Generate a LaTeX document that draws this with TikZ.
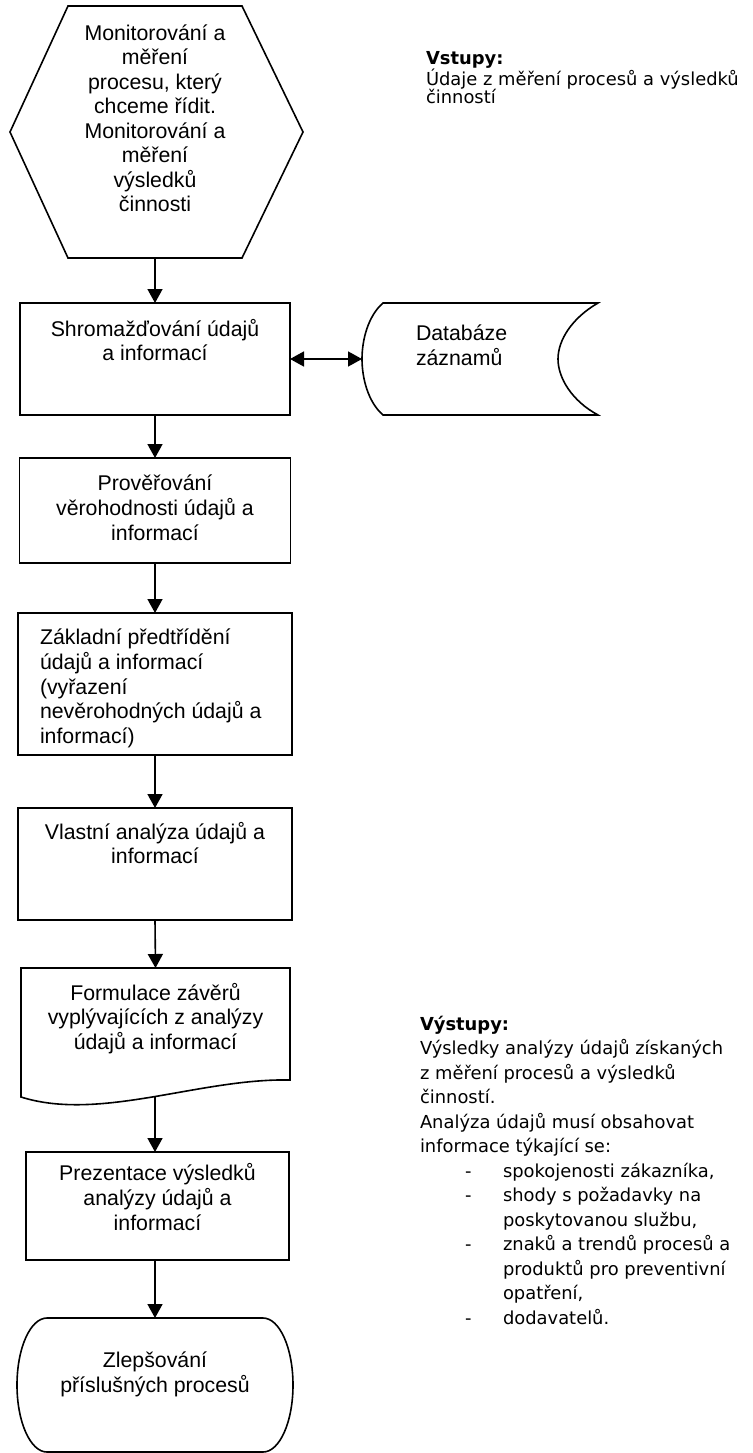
\documentclass[tikz,border=0pt]{standalone}
\usepackage{fontspec}
\setmainfont{Liberation Sans}
\newfontfamily\verd{DejaVu Sans}
\usetikzlibrary{arrows.meta}
\newcommand\blk[5]{\begin{minipage}[c][#2pt][t]{#1pt}\vspace*{#3pt}#4\strut #5\end{minipage}}
\begin{document}
\begin{tikzpicture}[x=1pt,y=-1pt,
  line width=1.6pt,
  arr/.style={-{Triangle[length=14pt,width=15pt]}},
  darr/.style={{Triangle[length=14pt,width=15pt]}-{Triangle[length=14pt,width=15pt]}},
  flow/.style={inner sep=0pt, outer sep=0pt, font=\fontsize{21.3}{24.5}\selectfont},
  boxed/.style={flow, draw},
  side/.style={inner sep=0pt, outer sep=0pt, anchor=north west, font=\verd\fontsize{17.9}{#1}\selectfont}
]
\useasboundingbox (0,0) rectangle (752,1453);
\coordinate (colx) at (155,0);

% hexagon
\draw (68,6) -- (242,6) -- (303,132) -- (242,258) -- (68,258) -- (10,132) -- cycle;
\node[flow] (hex) at (155,132) {\blk{220}{252}{17}{\centering}{Monitorování a\\měření\\procesu, který\\chceme řídit.\\Monitorování a\\měření\\výsledků\\činnosti}};

% boxes
\node[boxed] (b1) at (155,359) {\blk{270}{112}{16}{\centering}{Shromažďování údajů\\a informací}};
\node[boxed] (b2) at (155,510.5) {\blk{271}{105}{15}{\centering}{Prověřování\\věrohodnosti údajů a\\informací}};
\node[boxed] (b3) at (155,684) {\blk{274}{142}{14}{\raggedright\leftskip=22pt}{Základní předtřídění\\údajů a informací\\(vyřazení\\nevěrohodných údajů a\\informací)}};
\node[boxed] (b4) at (155,864) {\blk{274}{112}{14}{\centering}{Vlastní analýza údajů a\\informací}};

% document shape
\draw (21,968) -- (290,968) -- (290,1080) .. controls (200,1078) and (100,1122) .. (21,1097) -- cycle;
\node[flow] (doc) at (155.5,1032.5) {\blk{269}{129}{15}{\centering}{Formulace závěrů\\vyplývajících z analýzy\\údajů a informací}};
\coordinate (docb) at (155,1097);

\node[boxed] (b6) at (157.5,1206) {\blk{263}{108}{11}{\centering}{Prezentace výsledků\\analýzy údajů a\\informací}};

% terminal
\draw (47,1318) -- (263,1318) .. controls (279.6,1318) and (293,1348) .. (293,1385)
  .. controls (293,1422) and (279.6,1452) .. (263,1452) -- (47,1452)
  .. controls (30.4,1452) and (17,1422) .. (17,1385)
  .. controls (17,1348) and (30.4,1318) .. (47,1318) -- cycle;
\node[flow] (term) at (155,1385) {\blk{276}{134}{32}{\centering}{Zlepšování\\příslušných procesů}};

% database
\draw (383,303) -- (598,303) .. controls (572,318) and (558,340) .. (558,359)
  .. controls (558,378) and (572,401) .. (598,415) -- (383,415)
  .. controls (368,402) and (362,378) .. (362,359)
  .. controls (362,340) and (368,316) .. (383,303) -- cycle;
\node[flow, anchor=north west] (dbt) at (416,303) {\blk{150}{112}{20}{\raggedright}{Databáze\\záznamů}};
\coordinate (dbl) at (362,359);

% connectors
\draw[arr] (hex.south) -- (b1.north);
\draw[darr] (b1.east) -- (dbl);
\draw[arr] (b1.south) -- (b2.north);
\draw[arr] (b2.south) -- (b3.north);
\draw[arr] (b3.south) -- (b4.north);
\draw[arr] (b4.south) -- (doc.north);
\draw[arr] (docb) -- (b6.north -| docb);
\draw[arr] (b6.south -| colx) -- (term.north);

% side texts
\node[side=18.3] (vst) at (426,51) {\begin{minipage}[t]{330pt}\textbf{Vstupy:}\\Údaje z měření procesů a výsledků\\činností\end{minipage}};
\node[side=24.5] (vyst) at (420,1016) {\begin{minipage}[t]{332pt}\textbf{Výstupy:}\\
Výsledky analýzy údajů získaných\\
z měření procesů a výsledků\\
činností.\\
Analýza údajů musí obsahovat\\
informace týkající se:\\
\hspace*{45pt}\makebox[38pt][l]{-}spokojenosti zákazníka,\\
\hspace*{45pt}\makebox[38pt][l]{-}shody s požadavky na\\
\hspace*{83pt}poskytovanou službu,\\
\hspace*{45pt}\makebox[38pt][l]{-}znaků a trendů procesů a\\
\hspace*{83pt}produktů pro preventivní\\
\hspace*{83pt}opatření,\\
\hspace*{45pt}\makebox[38pt][l]{-}dodavatelů.\end{minipage}};
\end{tikzpicture}
\end{document}
